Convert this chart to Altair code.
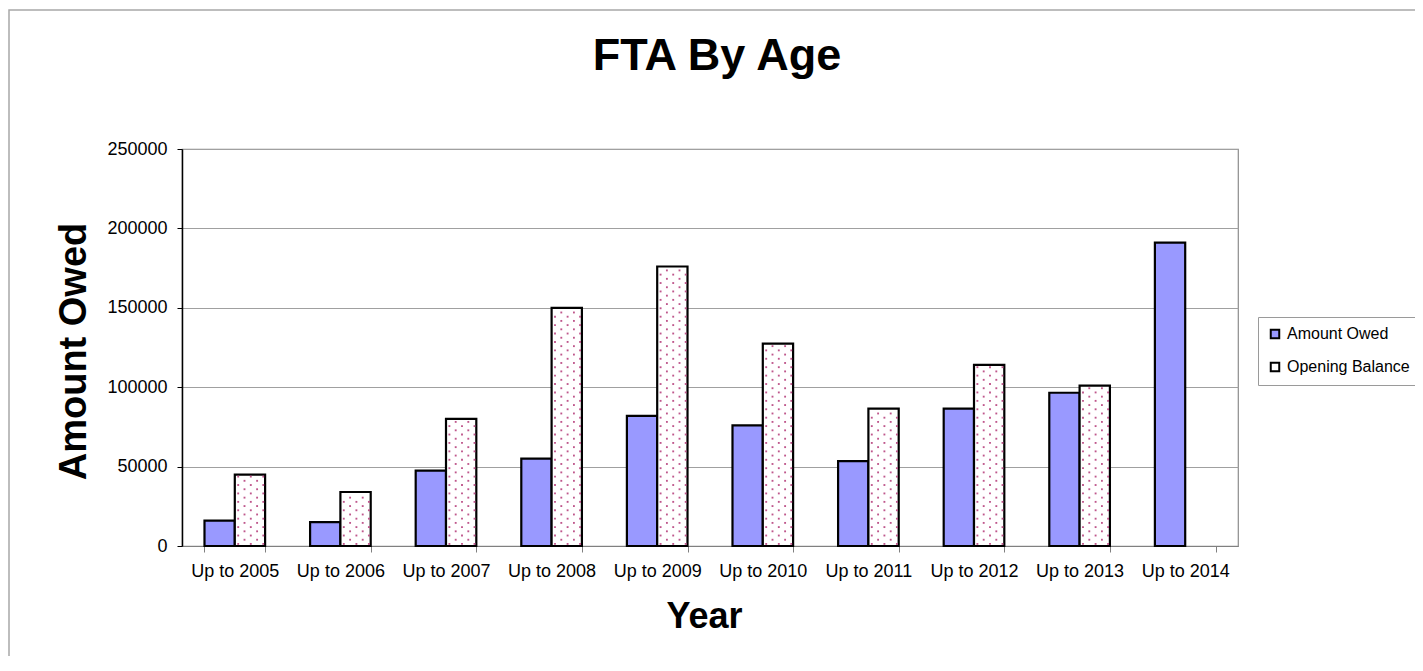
import altair as alt
import pandas as pd

categories = ["Up to 2005", "Up to 2006", "Up to 2007", "Up to 2008", "Up to 2009",
              "Up to 2010", "Up to 2011", "Up to 2012", "Up to 2013", "Up to 2014"]
amount_owed = [16000, 15000, 47500, 55000, 82000, 76000, 53500, 86500, 96500, 191000]
opening_balance = [45000, 34000, 80000, 150000, 176000, 127500, 86500, 114000, 101000, None]
series = ["Amount Owed", "Opening Balance"]
y_ticks = [0, 50000, 100000, 150000, 200000, 250000]

FONT = "Liberation Sans"

rows = []
for c, a, o in zip(categories, amount_owed, opening_balance):
    rows.append({"cat": c, "series": series[0], "value": a})
    if o is not None:
        rows.append({"cat": c, "series": series[1], "value": o})
df = pd.DataFrame(rows)

# dotted fill pattern of the "Opening Balance" bars, derived from the data
dot_step = 2650
dot_rows = []
for c, o in zip(categories, opening_balance):
    if o is None:
        continue
    k = 0
    yv = 1300
    while yv <= o - 1300:
        dot_rows.append({"cat": c, "yv": yv, "parity": k % 2})
        k += 1
        yv += dot_step
dots = pd.DataFrame(dot_rows)

x_axis = alt.Axis(title="Year", labelAngle=0, labelFontSize=18, labelFont=FONT,
                  labelColor="black", tickBand="extent", domainColor="#808080",
                  tickColor="#808080", tickSize=6, labelPadding=10,
                  titleFontSize=36, titleFont=FONT, titleFontWeight="bold",
                  titleColor="black", titleX=522, titleY=81, titleAlign="center",
                  titleBaseline="alphabetic", grid=False)
y_axis = alt.Axis(title="Amount Owed", values=y_ticks, format="d", labelFontSize=18,
                  labelFont=FONT, labelColor="black", gridColor="#a0a0a0",
                  gridWidth=1, domainColor="black", domainWidth=1.5,
                  tickColor="black", tickSize=5, labelPadding=10,
                  titleFontSize=38, titleFont=FONT, titleFontWeight="bold",
                  titleColor="black", titleX=-97, titleY=202, titleAlign="center",
                  titleBaseline="alphabetic", titleAngle=270)

x_scale = alt.Scale(paddingInner=0.426, paddingOuter=0.213)
y_scale = alt.Scale(domain=[0, 250000])

frame = alt.Chart(alt.Data(values=[{"f": 1}])).mark_rect(
    filled=False, stroke="#a8a8a8", strokeWidth=1.5
).encode(x=alt.value(-173), x2=alt.value(1400), y=alt.value(-139), y2=alt.value(700))

bars = alt.Chart(df).mark_bar(stroke="black", strokeWidth=2.2).encode(
    x=alt.X("cat:N", sort=categories, scale=x_scale, axis=x_axis),
    xOffset=alt.XOffset("series:N", sort=series,
                        scale=alt.Scale(paddingInner=0, paddingOuter=0)),
    y=alt.Y("value:Q", scale=y_scale, axis=y_axis),
    fill=alt.Fill("series:N", sort=series,
                  scale=alt.Scale(domain=series, range=["#9999ff", "#ffffff"]),
                  legend=alt.Legend(title=None, orient="none", legendX=1076, legendY=168,
                                    direction="vertical", symbolType="square",
                                    symbolSize=72, symbolStrokeColor="black",
                                    symbolStrokeWidth=2, labelFontSize=16,
                                    labelFont=FONT, labelColor="black", padding=9,
                                    strokeColor="#9a9a9a", fillColor="white",
                                    rowPadding=15, labelOffset=4)),
)

dot_layers = []
for parity, positions in [(0, [0.556, 0.764, 0.97]), (1, [0.66, 0.868])]:
    for p in positions:
        dot_layers.append(
            alt.Chart(dots).transform_filter(f"datum.parity == {parity}")
            .mark_square(size=3.5, color="#b8457f", opacity=0.9)
            .encode(
                x=alt.X("cat:N", sort=categories, bandPosition=p, axis=x_axis),
                y=alt.Y("yv:Q", scale=y_scale, axis=y_axis),
            )
        )

chart = alt.layer(frame, bars, *dot_layers).properties(
    width=1056, height=397,
    title=alt.TitleParams("FTA By Age", fontSize=45, font=FONT, fontWeight="bold",
                          color="black", anchor="middle", frame="group",
                          baseline="alphabetic", offset=-106, dx=7),
    autosize=alt.AutoSizeParams(type="none"),
    padding={"left": 174, "top": 141, "right": 177, "bottom": 110},
).configure_view(stroke="#8c8c8c", strokeWidth=1.2)

chart.save("out.html", embed_options={"renderer": "svg", "actions": False})
